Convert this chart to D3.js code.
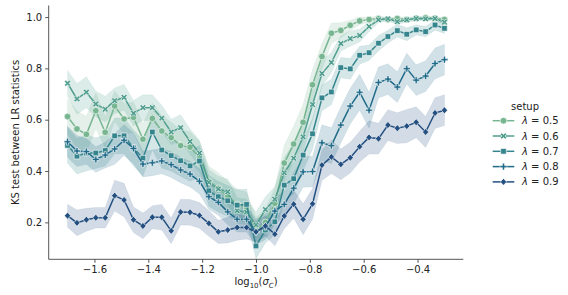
<!DOCTYPE html>
<html>
<head>
<meta charset="utf-8">
<script src="https://cdn.jsdelivr.net/npm/d3@7"></script>
<style>
  body { margin: 0; background: #fff; }
  text { font-family: "DejaVu Sans", sans-serif; fill: #222; }
</style>
</head>
<body>
<svg id="chart" width="568" height="295"></svg>
<script>
// log10(sigma_c) grid: 41 points from -1.7 to -0.3
const xs = d3.range(41).map(i => +(-1.7 + i * 0.035).toFixed(3));

const setups = ['0.5', '0.6', '0.7', '0.8', '0.9'];

const ks05 = [0.612, 0.564, 0.543, 0.635, 0.551, 0.653, 0.603, 0.609, 0.524, 0.605,
  0.556, 0.530, 0.499, 0.493, 0.455, 0.360, 0.333, 0.300, 0.270, 0.257,
  0.170, 0.200, 0.274, 0.431, 0.505, 0.590, 0.736, 0.846, 0.937, 0.948,
  0.968, 0.985, 0.990, 0.994, 0.990, 0.994, 0.990, 0.995, 0.997, 0.995, 0.990];
const ks06 = [0.742, 0.681, 0.707, 0.661, 0.641, 0.674, 0.687, 0.625, 0.647, 0.647,
  0.606, 0.552, 0.569, 0.515, 0.470, 0.356, 0.330, 0.319, 0.245, 0.240,
  0.190, 0.250, 0.290, 0.393, 0.450, 0.533, 0.659, 0.780, 0.823, 0.897,
  0.916, 0.928, 0.963, 0.989, 0.993, 0.982, 0.989, 0.994, 0.993, 0.994, 0.980];
const ks07 = [0.500, 0.458, 0.470, 0.470, 0.480, 0.537, 0.537, 0.490, 0.450, 0.552,
  0.482, 0.460, 0.440, 0.420, 0.439, 0.323, 0.300, 0.284, 0.267, 0.270,
  0.108, 0.170, 0.202, 0.345, 0.370, 0.462, 0.545, 0.685, 0.708, 0.803,
  0.798, 0.851, 0.861, 0.898, 0.924, 0.947, 0.933, 0.950, 0.943, 0.969, 0.956];
const ks08 = [0.514, 0.478, 0.476, 0.445, 0.462, 0.486, 0.520, 0.488, 0.427, 0.432,
  0.439, 0.425, 0.404, 0.388, 0.360, 0.300, 0.278, 0.241, 0.212, 0.212,
  0.163, 0.183, 0.244, 0.270, 0.333, 0.397, 0.398, 0.510, 0.499, 0.579,
  0.653, 0.707, 0.637, 0.745, 0.758, 0.727, 0.799, 0.754, 0.770, 0.819, 0.834];
const ks09 = [0.226, 0.198, 0.210, 0.218, 0.218, 0.304, 0.287, 0.210, 0.186, 0.220,
  0.220, 0.167, 0.240, 0.239, 0.227, 0.196, 0.163, 0.170, 0.180, 0.180,
  0.163, 0.186, 0.154, 0.225, 0.271, 0.212, 0.272, 0.423, 0.455, 0.426,
  0.452, 0.495, 0.531, 0.526, 0.579, 0.567, 0.575, 0.590, 0.552, 0.626, 0.637];

// confidence band half widths
const ci05 = [0.07, 0.07, 0.07, 0.07, 0.06, 0.06, 0.06, 0.06, 0.06, 0.06,
  0.06, 0.06, 0.06, 0.06, 0.06, 0.06, 0.06, 0.06, 0.06, 0.06,
  0.05, 0.05, 0.06, 0.07, 0.07, 0.07, 0.06, 0.05, 0.04, 0.03,
  0.02, 0.015, 0.01, 0.008, 0.008, 0.008, 0.008, 0.006, 0.005, 0.006, 0.008];
const ci06 = [0.05, 0.06, 0.06, 0.05, 0.05, 0.05, 0.05, 0.05, 0.05, 0.05,
  0.05, 0.05, 0.05, 0.05, 0.05, 0.05, 0.05, 0.05, 0.05, 0.05,
  0.05, 0.05, 0.05, 0.06, 0.06, 0.06, 0.06, 0.05, 0.04, 0.03,
  0.03, 0.025, 0.02, 0.01, 0.008, 0.01, 0.01, 0.008, 0.008, 0.008, 0.01];
const ci07 = [0.07, 0.07, 0.07, 0.06, 0.06, 0.07, 0.07, 0.07, 0.07, 0.07,
  0.07, 0.06, 0.06, 0.06, 0.06, 0.06, 0.06, 0.06, 0.06, 0.06,
  0.05, 0.05, 0.05, 0.06, 0.06, 0.06, 0.06, 0.05, 0.05, 0.04,
  0.04, 0.035, 0.03, 0.03, 0.025, 0.025, 0.025, 0.02, 0.02, 0.02, 0.02];
const ci08 = [0.06, 0.06, 0.05, 0.05, 0.05, 0.06, 0.06, 0.06, 0.05, 0.05,
  0.05, 0.05, 0.05, 0.05, 0.05, 0.05, 0.05, 0.05, 0.05, 0.05,
  0.05, 0.05, 0.05, 0.05, 0.06, 0.06, 0.06, 0.07, 0.07, 0.07,
  0.07, 0.07, 0.07, 0.06, 0.06, 0.06, 0.06, 0.06, 0.06, 0.06, 0.06];
const ci09 = [0.045, 0.05, 0.045, 0.04, 0.04, 0.06, 0.065, 0.05, 0.05, 0.045,
  0.05, 0.05, 0.05, 0.05, 0.05, 0.05, 0.045, 0.05, 0.05, 0.045,
  0.04, 0.04, 0.045, 0.05, 0.055, 0.06, 0.06, 0.06, 0.065, 0.06,
  0.06, 0.06, 0.065, 0.06, 0.06, 0.06, 0.065, 0.06, 0.06, 0.06, 0.06];

const xTicks = [-1.6, -1.4, -1.2, -1.0, -0.8, -0.6, -0.4];
const yTicks = [0.2, 0.4, 0.6, 0.8, 1.0];

const colors = ['#77b691', '#519e8f', '#34858d', '#206b89', '#234f81'];
const markers = ['circle', 'x', 'square', 'plus', 'diamond'];

const series = setups.map((s, k) => ({
  label: s,
  values: [ks05, ks06, ks07, ks08, ks09][k],
  ci: [ci05, ci06, ci07, ci08, ci09][k],
  color: colors[k],
  marker: markers[k]
}));

const svg = d3.select('#chart');
const plotLeft = 48.7, plotRight = 463.3, plotTop = 5.5, plotBottom = 259.3;
const fs = 10;

const x = d3.scaleLinear().domain([-1.77, -0.23]).range([plotLeft, plotRight]);
const y = d3.scaleLinear().domain([0.056, 1.045]).range([plotBottom, plotTop]);

// marker path generator
function markerPath(type, s) {
  if (type === 'circle') {
    return d3.symbol(d3.symbolCircle, Math.PI * s * s)();
  }
  if (type === 'square') {
    const h = s * 0.85;
    return `M${-h},${-h}H${h}V${h}H${-h}Z`;
  }
  if (type === 'diamond') {
    const h = s * 1.05, w = s * 0.95;
    return `M0,${-h}L${w},0L0,${h}L${-w},0Z`;
  }
  // plus / x: filled cross
  const a = s * 1.05, t = s * 0.32;
  let pts = [[-t, -a], [t, -a], [t, -t], [a, -t], [a, t], [t, t], [t, a], [-t, a], [-t, t], [-a, t], [-a, -t], [-t, -t]];
  if (type === 'x') {
    const c = Math.SQRT1_2;
    pts = pts.map(([px, py]) => [c * (px - py), c * (px + py)]);
  }
  return 'M' + pts.map(p => p.map(v => v.toFixed(2)).join(',')).join('L') + 'Z';
}

// axes
const xAxis = svg.append('g')
  .attr('transform', `translate(0,${plotBottom})`)
  .call(d3.axisBottom(x).tickValues(xTicks).tickSize(3.5).tickPadding(3)
    .tickFormat(d => d3.format('.1f')(d).replace('-', '\u2212')));
const yAxis = svg.append('g')
  .attr('transform', `translate(${plotLeft},0)`)
  .call(d3.axisLeft(y).tickValues(yTicks).tickSize(3.5).tickPadding(3)
    .tickFormat(d3.format('.1f')));

[xAxis, yAxis].forEach(g => {
  g.select('.domain').attr('stroke', '#444').attr('stroke-width', 0.9);
  g.selectAll('.tick line').attr('stroke', '#444').attr('stroke-width', 0.9);
  g.selectAll('.tick text').attr('font-size', fs).attr('fill', '#222')
    .attr('font-family', '"DejaVu Sans", sans-serif');
});
xAxis.select('.domain').attr('d', `M${plotLeft},0H${plotRight}`);
yAxis.select('.domain').attr('d', `M0,${plotBottom}V${plotTop}`);

// bands
const area = d3.area()
  .x((d, i) => x(xs[i]))
  .y0(d => y(d[0]))
  .y1(d => y(d[1]));

const plot = svg.append('g');

series.forEach(s => {
  plot.append('path')
    .datum(s.values.map((v, i) => [v - s.ci[i], v + s.ci[i]]))
    .attr('d', area)
    .attr('fill', s.color)
    .attr('fill-opacity', 0.2)
    .attr('stroke', s.color)
    .attr('stroke-opacity', 0.15)
    .attr('stroke-width', 0.5);
});

const line = d3.line().x((d, i) => x(xs[i])).y(d => y(d));

series.forEach(s => {
  plot.append('path')
    .datum(s.values)
    .attr('d', line)
    .attr('fill', 'none')
    .attr('stroke', s.color)
    .attr('stroke-width', 1.5);
  plot.append('g')
    .selectAll('path')
    .data(s.values)
    .enter().append('path')
    .attr('d', markerPath(s.marker, 3.3))
    .attr('transform', (d, i) => `translate(${x(xs[i])},${y(d)})`)
    .attr('fill', s.color)
    .attr('stroke', '#fff')
    .attr('stroke-width', 0.6);
});

// axis labels
svg.append('text')
  .attr('transform', `translate(15,${(plotTop + plotBottom) / 2}) rotate(-90)`)
  .attr('text-anchor', 'middle')
  .attr('font-size', fs)
  .attr('dy', '0.35em')
  .text('KS test between LR statistics');

const xl = svg.append('text')
  .attr('x', (plotLeft + plotRight) / 2)
  .attr('y', 285)
  .attr('text-anchor', 'middle')
  .attr('font-size', fs);
xl.append('tspan').text('log');
xl.append('tspan').attr('font-size', 7).attr('dy', 2.5).text('10');
xl.append('tspan').attr('dy', -2.5).text('(');
xl.append('tspan').attr('font-style', 'italic').text('\u03c3');
xl.append('tspan').attr('font-style', 'italic').attr('font-size', 7).attr('dy', 2.5).text('C');
xl.append('tspan').attr('dy', -2.5).text(')');

// legend
const legend = svg.append('g');
legend.append('text')
  .attr('x', 525)
  .attr('y', 106)
  .attr('dy', '0.35em')
  .attr('text-anchor', 'middle')
  .attr('font-size', fs)
  .text('setup');

series.forEach((s, k) => {
  const ly = 120.7 + k * 15.3;
  legend.append('line')
    .attr('x1', 492.7).attr('x2', 514.3)
    .attr('y1', ly).attr('y2', ly)
    .attr('stroke', s.color).attr('stroke-width', 1.5);
  legend.append('path')
    .attr('d', markerPath(s.marker, 3.3))
    .attr('transform', `translate(503.5,${ly})`)
    .attr('fill', s.color)
    .attr('stroke', '#fff')
    .attr('stroke-width', 0.6);
  const t = legend.append('text')
    .attr('x', 522)
    .attr('y', ly)
    .attr('dy', '0.35em')
    .attr('font-size', fs);
  t.append('tspan').attr('font-style', 'italic').text('\u03bb');
  t.append('tspan').text(' = ' + s.label);
});
</script>
</body>
</html>
